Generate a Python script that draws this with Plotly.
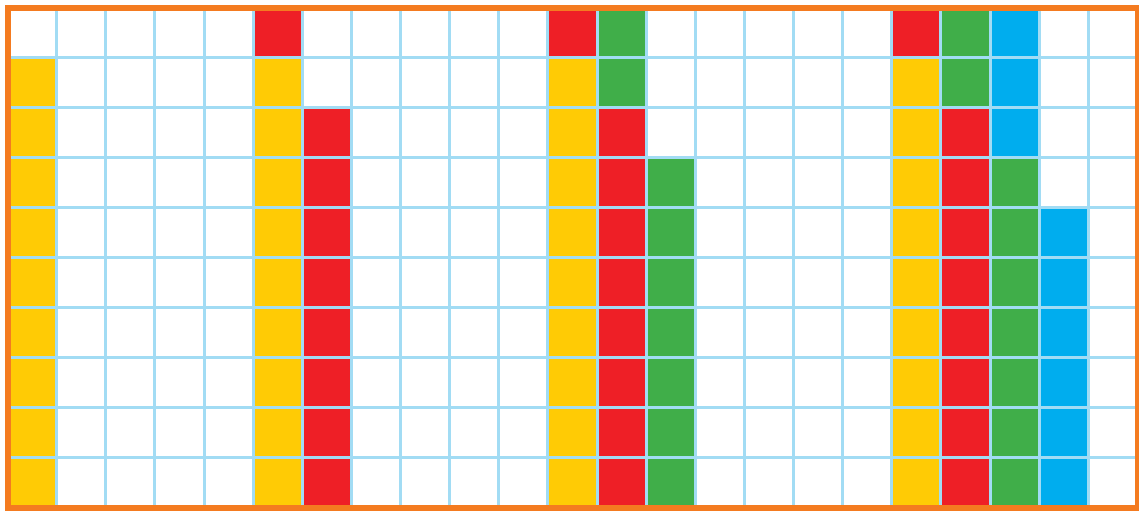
import plotly.graph_objects as go

N_ROWS = 10
N_COLS = 23

# Cell codes per column, top row first (W=white, Y=yellow, R=red, G=green, B=blue)
col_00 = list("WYYYYYYYYY")
col_05 = list("RYYYYYYYYY")
col_06 = list("WWRRRRRRRR")
col_11 = list("RYYYYYYYYY")
col_12 = list("GGRRRRRRRR")
col_13 = list("WWWGGGGGGG")
col_18 = list("RYYYYYYYYY")
col_19 = list("GGRRRRRRRR")
col_20 = list("BBBGGGGGGG")
col_21 = list("WWWWBBBBBB")

filled_columns = {0: col_00, 5: col_05, 6: col_06, 11: col_11, 12: col_12,
                  13: col_13, 18: col_18, 19: col_19, 20: col_20, 21: col_21}

codes = ["W", "Y", "R", "G", "B"]
palette = ["#FFFFFF", "#FFCB05", "#EE1F26", "#40AE49", "#00ADEE"]

z = [[0] * N_COLS for _ in range(N_ROWS)]
for c, cells in filled_columns.items():
    for r, code in enumerate(cells):
        z[r][c] = codes.index(code)

n = len(codes)
colorscale = []
for i, col in enumerate(palette):
    colorscale.append([i / n, col])
    colorscale.append([(i + 1) / n, col])

fig = go.Figure(go.Heatmap(
    z=z,
    x=list(range(N_COLS)),
    y=list(range(N_ROWS)),
    zmin=-0.5, zmax=n - 0.5,
    colorscale=colorscale,
    showscale=False,
    xgap=3, ygap=3,
    hoverinfo="skip",
))

fig.add_shape(type="rect", xref="paper", yref="paper", x0=0, x1=1, y0=0, y1=1,
              line=dict(color="#F47B20", width=6), fillcolor="rgba(0,0,0,0)")

fig.update_xaxes(range=[-0.5, N_COLS - 0.5], showgrid=False, zeroline=False,
                 showticklabels=False, ticks="", showline=False)
fig.update_yaxes(range=[N_ROWS - 0.5, -0.5], showgrid=False, zeroline=False,
                 showticklabels=False, ticks="", showline=False)

fig.update_layout(
    width=1139, height=512,
    margin=dict(l=8, r=1, t=8, b=4),
    plot_bgcolor="#A2DCF4",
    paper_bgcolor="#FFFFFF",
    showlegend=False,
)

fig.write_html("out.html", config={"displayModeBar": False},
               post_script="document.body.style.margin='0px';")
